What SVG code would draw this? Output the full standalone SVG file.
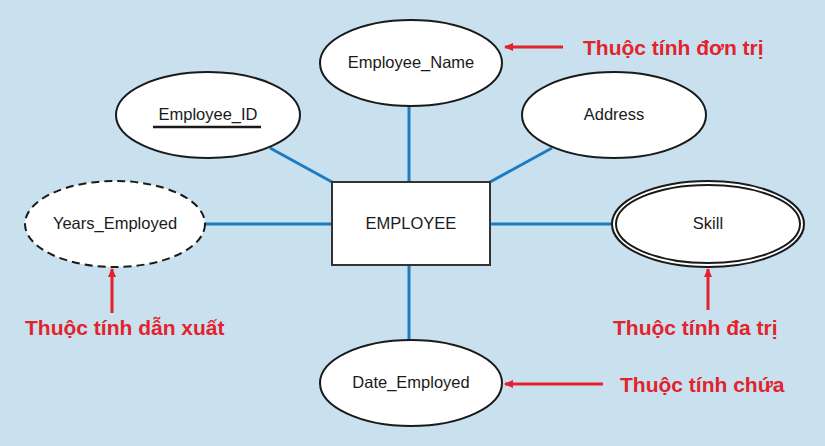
<svg xmlns="http://www.w3.org/2000/svg" width="825" height="446" viewBox="0 0 825 446">
<defs>
<marker id="ah" markerWidth="10" markerHeight="10" refX="8" refY="5" orient="auto" markerUnits="userSpaceOnUse">
<path d="M0,1 L9,5 L0,9 Z" fill="#e3232b"/>
</marker>
</defs>
<style>
.ell{fill:#ffffff;stroke:#1a1a1a;stroke-width:2}
.lbl{font-family:"Liberation Sans",Arial,sans-serif;font-size:16.5px;fill:#1a1a1a;text-anchor:middle}
.note{font-family:"Liberation Sans",Arial,sans-serif;font-size:21px;font-weight:bold;fill:#e3232b}
.con{stroke:#1f7bc0;stroke-width:3;fill:none}
.arr{stroke:#e3232b;stroke-width:3;fill:none}
</style>
<rect width="825" height="446" fill="#c9e1ef"/>
<g id="connectors">
<line class="con" x1="409" y1="106" x2="409" y2="182"/>
<line class="con" x1="270" y1="148" x2="332" y2="182"/>
<line class="con" x1="552" y1="148" x2="490" y2="182"/>
<line class="con" x1="205" y1="224" x2="332" y2="224"/>
<line class="con" x1="490" y1="224" x2="612" y2="224"/>
<line class="con" x1="409" y1="265" x2="409" y2="340"/>
</g>
<g id="employee">
<rect x="332" y="182" width="158" height="83" fill="#ffffff" stroke="#333" stroke-width="2"/>
<text class="lbl" x="411" y="229">EMPLOYEE</text>
</g>
<g id="employee_name">
<ellipse class="ell" cx="411" cy="63" rx="91" ry="43"/>
<text class="lbl" x="411" y="68">Employee_Name</text>
</g>
<g id="employee_id">
<ellipse class="ell" cx="208" cy="115" rx="92" ry="43"/>
<text class="lbl" x="208" y="120">Employee_ID</text>
<line x1="153" y1="127" x2="261" y2="127" stroke="#1a1a1a" stroke-width="2.5"/>
</g>
<g id="address">
<ellipse class="ell" cx="614" cy="115" rx="92" ry="43"/>
<text class="lbl" x="614" y="120">Address</text>
</g>
<g id="years_employed">
<ellipse class="ell" cx="115" cy="224" rx="90" ry="43" stroke-dasharray="8,5"/>
<text class="lbl" x="115" y="229">Years_Employed</text>
</g>
<g id="skill">
<ellipse class="ell" cx="708" cy="224" rx="96" ry="43"/>
<ellipse class="ell" cx="708" cy="224" rx="92" ry="39" stroke-width="1.5"/>
<text class="lbl" x="708" y="229">Skill</text>
</g>
<g id="date_employed">
<ellipse class="ell" cx="411" cy="383" rx="91" ry="43"/>
<text class="lbl" x="411" y="388">Date_Employed</text>
</g>
<g id="annotations">
<line class="arr" x1="563" y1="47" x2="505" y2="47" marker-end="url(#ah)"/>
<text class="note" x="583" y="55">Thuộc tính đơn trị</text>
<line class="arr" x1="112" y1="313" x2="112" y2="269" marker-end="url(#ah)"/>
<text class="note" x="25" y="335">Thuộc tính dẫn xuất</text>
<line class="arr" x1="708" y1="310" x2="708" y2="269" marker-end="url(#ah)"/>
<text class="note" x="613" y="335">Thuộc tính đa trị</text>
<line class="arr" x1="603" y1="384" x2="505" y2="384" marker-end="url(#ah)"/>
<text class="note" x="620" y="392">Thuộc tính chứa</text>
</g>
</svg>
